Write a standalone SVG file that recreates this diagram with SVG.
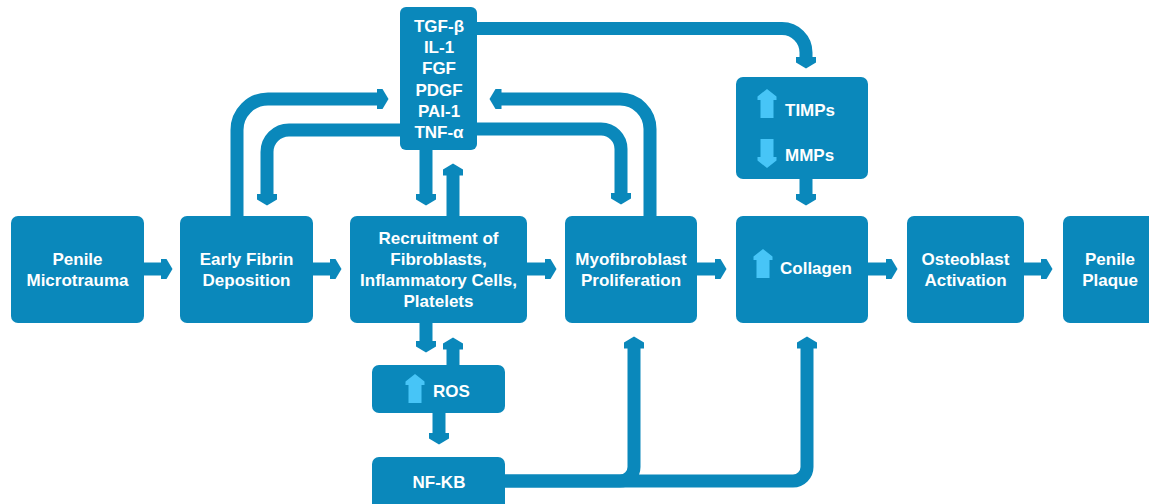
<svg xmlns="http://www.w3.org/2000/svg" width="1149" height="504" viewBox="0 0 1149 504">
<style>
.box{fill:#0a88bb;}
.t{font-family:"Liberation Sans",Arial,sans-serif;font-weight:bold;font-size:17px;fill:#ffffff;text-anchor:middle;}
.tl{font-family:"Liberation Sans",Arial,sans-serif;font-weight:bold;font-size:17px;fill:#ffffff;}
.c{fill:none;stroke:#0a88bb;stroke-width:13;}
.ic{fill:#47c5f7;}
</style>
<defs>
<marker id="ah" markerUnits="userSpaceOnUse" viewBox="0 -11 13 22" markerWidth="13" markerHeight="22" refX="0.5" refY="0" orient="auto">
<path d="M0,-10 L6,-10 L12,0 L6,10 L0,10 Z" fill="#0a88bb"/>
</marker>
<path id="up" d="M0,0 L9.5,7.5 L9.5,11 L6.5,11 L6.5,29 L-6.5,29 L-6.5,11 L-9.5,11 L-9.5,7.5 Z"/>
</defs>
<rect width="1149" height="504" fill="#ffffff"/>
<g id="connectors">
<path class="c" marker-end="url(#ah)" d="M144,269 H161"/>
<path class="c" marker-end="url(#ah)" d="M313,269 H330"/>
<path class="c" marker-end="url(#ah)" d="M527,269 H545"/>
<path class="c" marker-end="url(#ah)" d="M697,269 H715"/>
<path class="c" marker-end="url(#ah)" d="M868,269 H886"/>
<path class="c" marker-end="url(#ah)" d="M1024,269 H1041"/>
<path class="c" marker-end="url(#ah)" d="M477,28.5 H782 A24,24 0 0 1 806,52.5 V57"/>
<path class="c" marker-end="url(#ah)" d="M237,216 V130 A31,31 0 0 1 268,99 H377"/>
<path class="c" marker-end="url(#ah)" d="M400,130 H289 A22,22 0 0 0 267,152 V194"/>
<path class="c" marker-end="url(#ah)" d="M426,150 V194"/>
<path class="c" marker-end="url(#ah)" d="M453,216 V175"/>
<path class="c" marker-end="url(#ah)" d="M650,216 V129 A30,30 0 0 0 620,99 H501"/>
<path class="c" marker-end="url(#ah)" d="M477,129 H601 A20,20 0 0 1 621,149 V193"/>
<path class="c" marker-end="url(#ah)" d="M806,179 V194"/>
<path class="c" marker-end="url(#ah)" d="M426,323 V341"/>
<path class="c" marker-end="url(#ah)" d="M453,365 V349"/>
<path class="c" marker-end="url(#ah)" d="M439,413 V433"/>
<path class="c" marker-end="url(#ah)" d="M505,481 H620 A14,14 0 0 0 634,467 V348"/>
<path class="c" marker-end="url(#ah)" d="M505,481 H793 A14,14 0 0 0 807,467 V348"/>
</g>
<g id="n-penile-microtrauma">
<rect class="box" x="11" y="216" width="133" height="107" rx="7"/>
<text class="t" x="77.5" y="264.5">Penile</text>
<text class="t" x="77.5" y="286">Microtrauma</text>
</g>
<g id="n-early-fibrin">
<rect class="box" x="180" y="216" width="133" height="107" rx="7"/>
<text class="t" x="246.5" y="264.5">Early Fibrin</text>
<text class="t" x="246.5" y="286">Deposition</text>
</g>
<g id="n-recruitment">
<rect class="box" x="350" y="216" width="177" height="107" rx="7"/>
<text class="t" x="438.5" y="244">Recruitment of</text>
<text class="t" x="438.5" y="265">Fibroblasts,</text>
<text class="t" x="438.5" y="286">Inflammatory Cells,</text>
<text class="t" x="438.5" y="307">Platelets</text>
</g>
<g id="n-myofibroblast">
<rect class="box" x="565" y="216" width="132" height="107" rx="7"/>
<text class="t" x="631" y="264.5">Myofibroblast</text>
<text class="t" x="631" y="286">Proliferation</text>
</g>
<g id="n-collagen">
<rect class="box" x="736" y="216" width="132" height="107" rx="7"/>
<use href="#up" class="ic" x="763" y="249"/>
<text class="tl" x="780" y="274">Collagen</text>
</g>
<g id="n-osteoblast">
<rect class="box" x="907" y="216" width="117" height="107" rx="7"/>
<text class="t" x="965.5" y="264.5">Osteoblast</text>
<text class="t" x="965.5" y="286">Activation</text>
</g>
<g id="n-penile-plaque">
<rect class="box" x="1063" y="216" width="110" height="107" rx="7"/>
<text class="t" x="1110" y="264.5">Penile</text>
<text class="t" x="1110" y="286">Plaque</text>
</g>
<g id="n-cytokines">
<rect class="box" x="400" y="7" width="77" height="143" rx="6"/>
<text class="t" x="439" y="32">TGF-β</text>
<text class="t" x="439" y="53.2">IL-1</text>
<text class="t" x="439" y="74.4">FGF</text>
<text class="t" x="439" y="95.6">PDGF</text>
<text class="t" x="439" y="116.8">PAI-1</text>
<text class="t" x="439" y="138">TNF-α</text>
</g>
<g id="n-timps-mmps">
<rect class="box" x="736" y="77" width="132" height="102" rx="7"/>
<use href="#up" class="ic" x="767" y="89"/>
<text class="tl" x="785" y="115.5">TIMPs</text>
<use href="#up" class="ic" transform="translate(767,168) rotate(180)"/>
<text class="tl" x="785" y="161">MMPs</text>
</g>
<g id="n-ros">
<rect class="box" x="372" y="365" width="133" height="48" rx="7"/>
<use href="#up" class="ic" x="415" y="374"/>
<text class="tl" x="433" y="397">ROS</text>
</g>
<g id="n-nfkb">
<rect class="box" x="372" y="457" width="133" height="60" rx="7"/>
<text class="t" x="439" y="488">NF-KB</text>
</g>
</svg>
